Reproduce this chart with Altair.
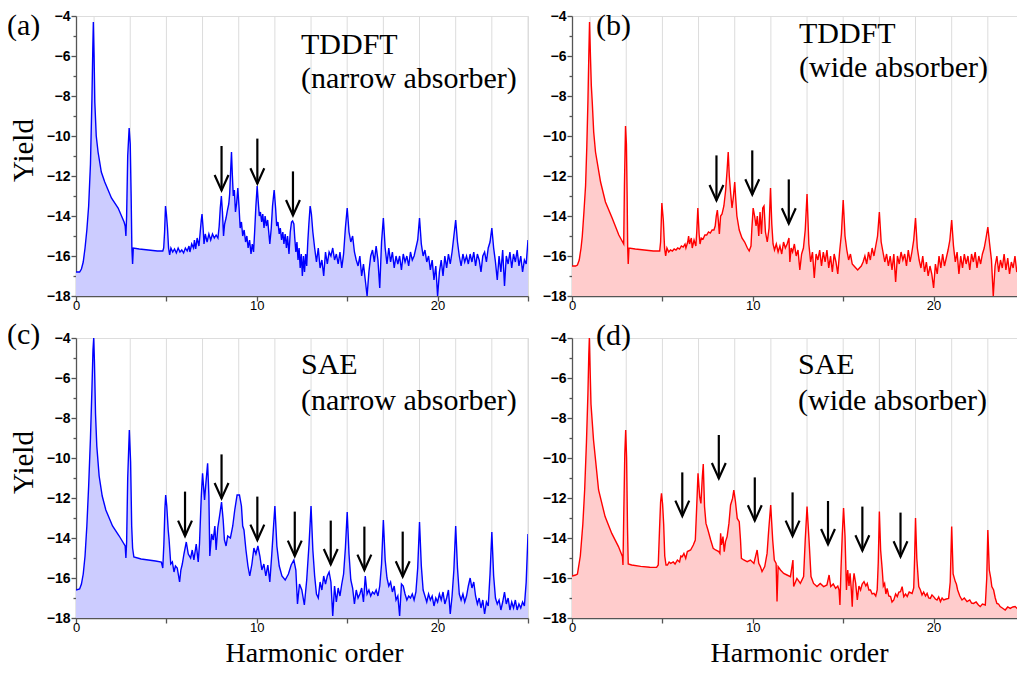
import altair as alt
import pandas as pd

# ---------------- data ----------------
A_PTS = [
    [0, -16.8], [0.2, -16.8], [0.3, -16.65], [0.4, -16.3], [0.5, -15.6], [0.6, -14.7], [0.7, -13.5], [0.8, -11.4],
    [0.88, -8.2], [0.93, -5.6], [0.96, -4.3], [1.0, -6.0], [1.04, -8.3], [1.12, -10.0], [1.22, -10.8], [1.4, -11.8],
    [1.59, -12.3], [1.96, -13.1], [2.33, -13.6], [2.66, -14.3], [2.72, -14.5], [2.76, -15.0], [2.8, -14.0], [2.86, -11.0],
    [2.94, -9.6], [3.0, -10.4], [3.05, -13.0], [3.09, -15.6], [3.13, -16.4], [3.17, -15.6], [3.5, -15.65], [4.0, -15.7],
    [4.5, -15.75], [4.8, -15.75], [4.85, -15.6], [4.9, -14.8], [4.95, -13.5], [5.0, -13.9], [5.06, -14.6], [5.12, -15.6],
    [5.18, -15.95], [5.25, -15.6], [5.35, -15.8], [5.45, -15.65], [5.55, -15.85], [5.65, -15.6], [5.75, -15.8], [5.85, -15.7],
    [5.95, -15.85], [6.05, -15.6], [6.15, -15.75], [6.25, -15.5], [6.3, -15.8], [6.4, -15.4], [6.5, -15.6], [6.55, -15.2],
    [6.62, -15.65], [6.7, -15.1], [6.8, -15.5], [6.87, -14.8], [6.93, -14.2], [6.97, -13.9], [7.03, -14.6], [7.08, -15.4],
    [7.15, -14.9], [7.25, -15.3], [7.35, -14.9], [7.45, -15.2], [7.55, -14.9], [7.65, -15.1], [7.75, -14.95], [7.85, -15.1],
    [7.92, -14.5], [7.98, -13.6], [8.04, -13.0], [8.1, -13.8], [8.16, -15.0], [8.22, -14.4], [8.3, -14.1], [8.38, -13.7],
    [8.45, -13.4], [8.5, -12.9], [8.55, -11.8], [8.6, -10.8], [8.65, -12.0], [8.7, -13.0], [8.76, -12.7], [8.82, -13.8],
    [8.88, -13.4], [8.95, -12.6], [9.02, -13.6], [9.08, -14.6], [9.15, -14.3], [9.22, -15.0], [9.3, -14.7], [9.38, -15.3],
    [9.45, -15.0], [9.52, -15.6], [9.6, -15.2], [9.68, -15.9], [9.75, -15.4], [9.82, -15.8], [9.88, -14.8], [9.95, -13.5],
    [10.02, -12.5], [10.08, -13.3], [10.14, -14.0], [10.2, -13.8], [10.27, -14.3], [10.33, -13.9], [10.4, -14.6], [10.46, -14.0],
    [10.53, -14.5], [10.6, -14.2], [10.66, -14.8], [10.72, -15.4], [10.8, -14.6], [10.87, -13.5], [10.96, -12.7], [11.04, -13.6],
    [11.1, -14.5], [11.17, -14.3], [11.24, -14.9], [11.3, -14.6], [11.37, -15.2], [11.44, -14.8], [11.5, -15.4], [11.57, -14.9],
    [11.64, -15.6], [11.7, -15.0], [11.78, -15.9], [11.85, -14.8], [11.92, -14.3], [11.98, -14.25], [12.05, -14.4], [12.1, -15.1],
    [12.16, -15.8], [12.22, -15.3], [12.28, -16.2], [12.34, -15.6], [12.4, -16.6], [12.46, -15.9], [12.52, -17.0], [12.58, -16.0],
    [12.64, -16.8], [12.7, -15.9], [12.76, -16.5], [12.82, -15.3], [12.88, -14.4], [12.95, -13.5], [13.02, -13.9], [13.1, -14.8],
    [13.2, -15.6], [13.3, -16.3], [13.4, -15.6], [13.5, -16.6], [13.6, -16.2], [13.7, -17.0], [13.8, -15.8], [13.9, -16.4],
    [14.0, -15.8], [14.1, -16.0], [14.2, -15.6], [14.3, -16.2], [14.4, -15.9], [14.5, -16.4], [14.6, -15.8], [14.7, -16.6],
    [14.8, -15.9], [14.9, -14.6], [15.0, -13.6], [15.1, -14.8], [15.2, -15.3], [15.3, -15.0], [15.4, -15.8], [15.5, -16.2],
    [15.6, -16.5], [15.7, -16.0], [15.8, -17.0], [15.9, -16.4], [16.0, -17.2], [16.1, -18.0], [16.2, -16.8], [16.3, -16.0],
    [16.4, -15.7], [16.5, -16.3], [16.6, -15.5], [16.7, -16.2], [16.8, -17.6], [16.9, -15.3], [17.0, -14.1], [17.1, -15.6],
    [17.2, -16.4], [17.3, -15.6], [17.4, -16.3], [17.5, -15.8], [17.6, -16.6], [17.7, -16.0], [17.8, -16.4], [17.9, -16.0],
    [18.0, -16.7], [18.1, -15.9], [18.2, -16.3], [18.3, -16.0], [18.4, -16.5], [18.5, -15.8], [18.6, -16.2], [18.7, -16.0],
    [18.8, -15.6], [18.9, -15.2], [19.0, -14.1], [19.1, -15.4], [19.2, -16.0], [19.3, -15.7], [19.4, -16.3], [19.5, -16.0],
    [19.6, -16.7], [19.7, -16.2], [19.8, -17.2], [19.9, -16.5], [20.0, -18.0], [20.1, -16.8], [20.2, -16.2], [20.3, -17.0],
    [20.4, -16.0], [20.5, -16.6], [20.6, -15.9], [20.7, -16.4], [20.8, -15.8], [20.9, -15.0], [21.0, -14.2], [21.1, -15.3],
    [21.2, -16.0], [21.3, -16.5], [21.4, -15.9], [21.5, -16.3], [21.6, -16.0], [21.7, -16.4], [21.8, -15.9], [21.9, -16.3],
    [22.0, -15.8], [22.1, -16.5], [22.2, -15.9], [22.3, -16.2], [22.4, -16.8], [22.5, -16.0], [22.6, -15.8], [22.7, -16.3],
    [22.8, -15.6], [22.9, -15.3], [23.0, -14.6], [23.1, -15.6], [23.2, -16.3], [23.3, -17.2], [23.4, -16.0], [23.5, -16.8],
    [23.6, -15.7], [23.7, -17.5], [23.8, -16.0], [23.9, -16.4], [24.0, -15.8], [24.1, -16.6], [24.2, -15.9], [24.3, -16.3],
    [24.4, -15.7], [24.5, -16.5], [24.6, -16.0], [24.7, -16.8], [24.8, -16.2], [24.9, -16.4], [25.0, -15.2],
]

B_PTS = [
    [0, -16.5], [0.2, -16.5], [0.3, -16.45], [0.4, -16.2], [0.5, -15.6], [0.57, -15.0], [0.66, -13.8], [0.75, -12.5],
    [0.82, -10.5], [0.88, -8.3], [0.93, -6.0], [0.97, -4.3], [1.02, -6.0], [1.07, -7.5], [1.12, -8.3], [1.2, -9.8],
    [1.3, -10.8], [1.58, -12.3], [1.85, -13.3], [2.22, -14.1], [2.59, -14.95], [2.8, -15.3], [2.86, -15.4], [2.9, -12.5],
    [2.96, -9.5], [3.01, -10.4], [3.05, -13.0], [3.08, -15.6], [3.11, -16.4], [3.15, -15.6], [3.5, -15.65], [4.0, -15.7],
    [4.5, -15.75], [4.85, -15.75], [4.9, -15.3], [4.97, -13.35], [5.05, -14.2], [5.12, -15.6], [5.18, -16.0], [5.25, -15.6],
    [5.35, -15.8], [5.45, -15.7], [5.55, -15.75], [5.65, -15.65], [5.75, -15.7], [5.85, -15.6], [5.95, -15.65], [6.05, -15.5],
    [6.15, -15.55], [6.25, -15.4], [6.3, -15.6], [6.4, -15.3], [6.45, -15.0], [6.5, -15.4], [6.6, -15.1], [6.65, -15.6],
    [6.75, -15.2], [6.85, -15.5], [6.9, -14.8], [6.96, -13.6], [7.03, -14.9], [7.08, -15.4], [7.15, -15.1], [7.25, -15.15],
    [7.35, -14.95], [7.45, -14.95], [7.55, -14.8], [7.65, -14.85], [7.75, -14.7], [7.85, -14.7], [7.92, -14.5], [7.98, -14.0],
    [8.04, -13.7], [8.1, -14.3], [8.15, -14.9], [8.22, -14.0], [8.3, -13.9], [8.4, -13.5], [8.5, -12.7], [8.58, -11.7],
    [8.64, -10.8], [8.7, -12.0], [8.78, -12.9], [8.85, -13.6], [8.92, -13.1], [9.0, -12.3], [9.06, -13.2], [9.12, -14.0],
    [9.25, -14.7], [9.4, -15.1], [9.55, -15.3], [9.7, -15.6], [9.8, -15.75], [9.9, -15.5], [9.95, -14.6], [10.02, -13.6],
    [10.1, -14.0], [10.18, -14.5], [10.25, -14.0], [10.33, -15.0], [10.4, -13.8], [10.48, -14.9], [10.55, -13.6], [10.62, -13.5],
    [10.7, -14.8], [10.8, -15.3], [10.9, -14.6], [10.98, -12.6], [11.05, -14.4], [11.12, -15.4], [11.2, -15.7], [11.3, -15.4],
    [11.4, -15.8], [11.5, -15.5], [11.6, -15.9], [11.7, -15.3], [11.8, -15.6], [11.9, -15.4], [12.0, -15.1], [12.05, -16.3],
    [12.12, -15.6], [12.2, -15.8], [12.3, -15.4], [12.4, -16.0], [12.5, -15.7], [12.6, -16.7], [12.7, -15.9], [12.8, -15.6],
    [12.9, -14.7], [13.0, -12.9], [13.1, -15.4], [13.2, -16.3], [13.3, -15.8], [13.4, -17.1], [13.5, -15.9], [13.6, -16.2],
    [13.7, -15.7], [13.8, -16.5], [13.9, -15.8], [14.0, -16.3], [14.1, -15.7], [14.2, -16.6], [14.3, -16.0], [14.4, -16.8],
    [14.5, -15.9], [14.6, -16.3], [14.7, -16.9], [14.8, -15.8], [14.9, -14.9], [15.0, -13.2], [15.1, -15.0], [15.2, -15.7],
    [15.3, -16.2], [15.4, -15.9], [15.5, -16.4], [15.6, -16.5], [15.7, -16.6], [15.8, -16.7], [15.9, -16.6], [16.0, -16.5],
    [16.1, -16.3], [16.2, -16.0], [16.3, -16.4], [16.4, -15.8], [16.5, -16.2], [16.6, -15.6], [16.7, -16.0], [16.8, -15.5],
    [16.9, -15.0], [17.0, -13.8], [17.1, -15.3], [17.2, -15.8], [17.3, -16.3], [17.4, -15.9], [17.5, -16.5], [17.6, -16.0],
    [17.7, -16.7], [17.8, -15.9], [17.9, -17.3], [18.0, -16.0], [18.1, -16.4], [18.2, -15.8], [18.3, -16.2], [18.4, -15.9],
    [18.5, -16.5], [18.6, -15.7], [18.7, -16.3], [18.8, -15.8], [18.9, -15.2], [19.0, -14.1], [19.1, -15.6], [19.2, -16.2],
    [19.3, -16.6], [19.4, -16.0], [19.5, -16.8], [19.6, -16.3], [19.7, -17.0], [19.8, -16.5], [19.9, -16.9], [20.0, -17.6],
    [20.1, -16.4], [20.2, -16.9], [20.3, -16.0], [20.4, -16.6], [20.5, -15.9], [20.6, -16.5], [20.7, -16.1], [20.8, -15.7],
    [20.9, -15.2], [21.0, -14.2], [21.1, -15.5], [21.2, -16.3], [21.3, -15.8], [21.4, -16.9], [21.5, -16.0], [21.6, -16.6],
    [21.7, -15.9], [21.8, -16.4], [21.9, -16.0], [22.0, -16.7], [22.1, -15.9], [22.2, -16.3], [22.3, -15.8], [22.4, -16.6],
    [22.5, -16.0], [22.6, -16.4], [22.7, -15.9], [22.8, -15.6], [22.9, -15.1], [23.0, -14.55], [23.1, -15.4], [23.2, -16.2],
    [23.3, -18.0], [23.4, -16.5], [23.5, -16.0], [23.6, -16.8], [23.7, -16.2], [23.8, -16.6], [23.9, -15.9], [24.0, -16.7],
    [24.1, -16.1], [24.2, -16.9], [24.3, -16.3], [24.4, -16.6], [24.5, -16.0], [24.6, -16.8], [24.7, -16.4], [24.8, -17.0],
    [24.9, -16.6], [25.0, -17.2],
]

C_PTS = [
    [0, -16.6], [0.2, -16.55], [0.3, -16.3], [0.4, -15.8], [0.5, -14.9], [0.6, -13.4], [0.7, -11.4], [0.8, -9.0],
    [0.88, -6.6], [0.94, -4.6], [0.98, -4.0], [1.02, -5.2], [1.08, -7.8], [1.15, -9.4], [1.28, -10.9], [1.45, -11.9],
    [1.65, -12.6], [2.02, -13.4], [2.39, -13.9], [2.72, -14.4], [2.76, -15.0], [2.8, -14.2], [2.86, -11.0], [2.95, -8.6],
    [3.02, -10.2], [3.08, -13.4], [3.13, -14.5], [3.2, -14.95], [3.6, -15.05], [4.0, -15.1], [4.4, -15.15], [4.72, -15.2],
    [4.8, -15.5], [4.86, -14.3], [4.92, -12.5], [4.96, -11.85], [5.02, -12.4], [5.1, -13.6], [5.15, -14.1], [5.24, -15.3],
    [5.33, -15.2], [5.42, -15.7], [5.5, -15.4], [5.6, -15.5], [5.73, -16.2], [5.8, -15.6], [5.88, -15.3], [5.97, -14.8],
    [6.1, -14.2], [6.21, -14.8], [6.34, -15.0], [6.43, -14.6], [6.52, -15.1], [6.65, -14.3], [6.76, -15.2], [6.83, -14.3],
    [6.93, -11.9], [7.0, -10.77], [7.11, -12.1], [7.18, -11.3], [7.28, -10.27], [7.35, -11.9], [7.4, -14.9], [7.5, -13.8],
    [7.59, -14.1], [7.68, -13.4], [7.75, -14.6], [7.84, -13.5], [7.94, -12.9], [8.05, -12.2], [8.14, -13.1], [8.21, -14.1],
    [8.3, -14.4], [8.39, -13.9], [8.54, -14.0], [8.67, -13.4], [8.78, -12.6], [8.91, -11.85], [9.04, -11.85], [9.15, -12.4],
    [9.22, -13.4], [9.29, -13.6], [9.4, -14.6], [9.51, -15.4], [9.61, -15.9], [9.73, -15.3], [9.84, -14.5], [9.95, -14.8],
    [10.06, -14.4], [10.17, -14.9], [10.28, -15.6], [10.39, -15.3], [10.5, -15.9], [10.61, -15.35], [10.72, -16.2], [10.83, -14.8],
    [10.92, -13.5], [11.0, -12.4], [11.11, -14.4], [11.24, -15.4], [11.39, -15.9], [11.57, -16.1], [11.75, -15.8], [11.9, -15.35],
    [12.05, -15.1], [12.16, -15.6], [12.25, -17.3], [12.36, -16.3], [12.49, -16.6], [12.63, -17.35], [12.76, -16.1], [12.89, -14.3],
    [13.0, -12.4], [13.1, -14.6], [13.2, -15.9], [13.3, -16.8], [13.4, -17.0], [13.5, -16.2], [13.6, -16.6], [13.7, -15.9],
    [13.8, -16.3], [13.9, -15.9], [14.0, -15.7], [14.1, -16.2], [14.2, -17.9], [14.3, -16.4], [14.4, -17.2], [14.5, -16.5],
    [14.6, -16.9], [14.7, -16.3], [14.8, -15.8], [14.9, -14.5], [15.0, -12.7], [15.1, -14.8], [15.2, -16.1], [15.3, -16.5],
    [15.4, -17.3], [15.5, -16.6], [15.6, -17.0], [15.7, -16.8], [15.8, -16.5], [15.9, -17.2], [16.0, -15.9], [16.1, -16.8],
    [16.2, -16.6], [16.3, -16.9], [16.4, -16.7], [16.5, -16.8], [16.6, -16.6], [16.7, -16.9], [16.8, -16.4], [16.9, -15.3],
    [17.0, -13.1], [17.1, -15.1], [17.2, -16.0], [17.3, -16.4], [17.4, -16.2], [17.5, -16.7], [17.6, -16.4], [17.7, -17.1],
    [17.8, -16.9], [17.9, -17.9], [18.0, -16.3], [18.1, -16.4], [18.2, -16.8], [18.3, -17.1], [18.4, -16.9], [18.5, -17.0],
    [18.6, -16.8], [18.7, -17.1], [18.8, -16.7], [18.9, -15.5], [19.0, -13.2], [19.1, -15.4], [19.2, -16.6], [19.3, -16.9],
    [19.4, -17.2], [19.5, -16.8], [19.6, -17.1], [19.7, -16.9], [19.8, -17.4], [19.9, -17.0], [20.0, -17.2], [20.1, -16.8],
    [20.2, -17.1], [20.3, -16.7], [20.4, -17.3], [20.5, -17.0], [20.6, -16.6], [20.7, -17.8], [20.8, -16.9], [20.9, -15.6],
    [21.0, -13.4], [21.1, -15.5], [21.2, -16.8], [21.3, -17.1], [21.4, -16.8], [21.5, -17.2], [21.6, -16.9], [21.7, -16.4],
    [21.8, -16.0], [21.9, -16.5], [22.0, -16.2], [22.1, -16.9], [22.2, -17.3], [22.3, -17.0], [22.4, -17.5], [22.5, -17.1],
    [22.6, -17.8], [22.7, -17.2], [22.8, -17.4], [22.9, -15.8], [23.0, -13.7], [23.1, -15.9], [23.2, -17.0], [23.3, -17.3],
    [23.4, -17.1], [23.5, -17.6], [23.6, -17.2], [23.7, -16.7], [23.8, -17.3], [23.9, -17.0], [24.0, -17.6], [24.1, -17.2],
    [24.2, -17.5], [24.3, -17.1], [24.4, -17.6], [24.5, -17.3], [24.6, -17.5], [24.7, -17.2], [24.8, -17.4], [24.9, -16.2],
    [25.0, -13.8],
]

D_PTS = [
    [0, -15.9], [0.2, -15.85], [0.3, -15.8], [0.46, -14.9], [0.6, -13.3], [0.7, -11.6], [0.8, -9.2], [0.88, -6.8],
    [0.93, -4.8], [0.96, -4.0], [1.0, -5.5], [1.05, -7.3], [1.19, -9.1], [1.47, -11.6], [1.83, -12.93], [2.2, -13.77],
    [2.57, -14.43], [2.79, -14.93], [2.82, -15.35], [2.86, -13.0], [2.92, -9.8], [2.97, -8.6], [3.02, -10.0], [3.07, -13.5],
    [3.11, -15.3], [3.3, -15.35], [3.8, -15.42], [4.3, -15.46], [4.68, -15.47], [4.77, -15.35], [4.84, -13.6], [4.9, -12.2],
    [4.95, -11.77], [5.01, -12.3], [5.07, -13.3], [5.13, -14.9], [5.2, -15.35], [5.28, -15.35], [5.37, -15.2], [5.46, -15.27],
    [5.6, -15.2], [5.7, -15.3], [5.83, -15.1], [5.95, -15.2], [6.02, -14.9], [6.1, -14.93], [6.19, -14.77], [6.29, -15.02],
    [6.38, -14.68], [6.56, -14.6], [6.71, -14.35], [6.82, -14.1], [6.89, -12.6], [6.97, -10.77], [7.06, -11.93], [7.13, -12.27],
    [7.21, -10.93], [7.26, -10.3], [7.33, -12.43], [7.41, -13.27], [7.52, -13.6], [7.67, -14.1], [7.81, -14.52], [7.94, -14.6],
    [8.12, -14.68], [8.18, -14.77], [8.22, -13.77], [8.27, -14.35], [8.35, -13.93], [8.42, -14.68], [8.49, -14.18], [8.58, -13.93],
    [8.68, -13.27], [8.77, -12.35], [8.88, -12.02], [8.95, -11.6], [9.04, -12.18], [9.14, -13.02], [9.25, -13.18], [9.32, -14.1],
    [9.37, -15.02], [9.5, -15.1], [9.69, -15.18], [9.87, -15.1], [10.06, -15.27], [10.15, -14.93], [10.24, -14.6], [10.33, -15.27],
    [10.42, -15.43], [10.51, -15.68], [10.66, -15.43], [10.79, -14.77], [10.88, -13.6], [10.99, -12.35], [11.1, -14.1], [11.19, -15.1],
    [11.29, -15.27], [11.34, -17.18], [11.4, -15.43], [11.53, -15.6], [11.71, -15.77], [11.89, -15.85], [12.08, -15.93], [12.22, -15.1],
    [12.26, -16.43], [12.44, -16.02], [12.63, -16.27], [12.81, -15.93], [12.9, -14.1], [13.0, -12.43], [13.11, -14.1], [13.22, -15.93],
    [13.36, -16.27], [13.55, -16.43], [13.73, -16.27], [13.92, -16.43], [14.1, -16.35], [14.22, -15.85], [14.31, -16.43], [14.45, -16.3],
    [14.58, -16.52], [14.7, -16.4], [14.77, -16.6], [14.82, -17.35], [14.88, -15.5], [14.95, -13.8], [15.02, -12.5], [15.1, -13.9],
    [15.18, -16.6], [15.25, -15.6], [15.32, -16.4], [15.38, -15.77], [15.45, -16.6], [15.5, -17.43], [15.55, -16.2], [15.6, -15.77],
    [15.69, -16.27], [15.78, -17.1], [15.87, -16.4], [15.96, -16.6], [16.05, -16.3], [16.15, -16.18], [16.25, -16.4], [16.33, -16.27],
    [16.42, -16.6], [16.51, -16.6], [16.6, -16.8], [16.7, -16.77], [16.8, -16.9], [16.88, -16.6], [16.94, -15.2], [17.0, -12.68],
    [17.07, -14.6], [17.16, -15.6], [17.22, -16.4], [17.29, -16.27], [17.36, -16.8], [17.43, -16.52], [17.52, -16.9], [17.62, -16.93],
    [17.7, -17.2], [17.8, -17.1], [17.9, -16.8], [17.99, -16.93], [18.08, -16.7], [18.17, -16.68], [18.26, -16.43], [18.35, -16.93],
    [18.45, -16.8], [18.54, -16.93], [18.65, -16.7], [18.81, -16.77], [18.9, -16.5], [18.95, -15.0], [19.0, -13.0], [19.07, -15.0],
    [19.18, -16.43], [19.27, -16.6], [19.36, -16.85], [19.45, -16.7], [19.55, -16.9], [19.64, -16.77], [19.73, -17.0], [19.82, -17.02],
    [19.91, -16.85], [20.0, -16.93], [20.1, -17.05], [20.19, -17.1], [20.28, -16.95], [20.38, -17.18], [20.47, -17.0], [20.56, -17.1],
    [20.7, -17.05], [20.83, -17.02], [20.92, -16.2], [21.0, -13.43], [21.08, -15.8], [21.2, -16.18], [21.26, -16.3], [21.33, -16.6],
    [21.45, -16.9], [21.57, -17.1], [21.7, -17.0], [21.85, -17.18], [22.0, -17.1], [22.1, -17.25], [22.21, -17.27], [22.35, -17.2],
    [22.48, -17.35], [22.58, -17.43], [22.7, -17.3], [22.86, -17.35], [22.94, -16.0], [23.0, -13.6], [23.08, -15.6], [23.16, -16.0],
    [23.22, -16.43], [23.32, -16.6], [23.41, -17.0], [23.5, -17.27], [23.59, -17.3], [23.68, -17.43], [23.8, -17.5], [23.96, -17.6],
    [24.1, -17.45], [24.24, -17.52], [24.38, -17.45], [24.51, -17.43], [24.65, -17.55], [24.79, -17.6], [24.88, -17.77], [25.0, -17.6],
]

# arrows: [harmonic, shaft top, tip]
A_ARROWS = [[8.05, -10.5, -12.72], [10.03, -10.13, -12.38], [12.0, -11.77, -13.97]]
B_ARROWS = [[7.99, -10.97, -13.22], [9.97, -10.72, -12.93], [11.99, -12.17, -14.38]]
C_ARROWS = [[6.03, -11.68, -13.9], [8.05, -9.82, -12.02], [10.03, -11.93, -14.1], [12.1, -12.68, -14.9],
            [14.09, -13.13, -15.32], [15.95, -13.43, -15.6], [18.07, -13.68, -15.93]]
D_ARROWS = [[6.1, -10.72, -12.9], [8.12, -8.85, -11.02], [10.11, -10.97, -13.13], [12.2, -11.72, -13.9],
            [14.16, -12.15, -14.32], [16.06, -12.43, -14.63], [18.17, -12.73, -14.93]]

GRID_H = [1, 3, 5, 7, 9, 11, 13, 15, 17, 19, 21, 23, 25]
X_TICKS = [0, 5, 10, 15, 20, 25]
Y_TICKS = [-18, -17, -16, -15, -14, -13, -12, -11, -10, -9, -8, -7, -6, -5, -4]

TAGS = ["(a)", "(b)", "(c)", "(d)"]
METHODS = ["TDDFT", "TDDFT", "SAE", "SAE"]
ABSORBERS = ["(narrow absorber)", "(wide absorber)", "(narrow absorber)", "(wide absorber)"]

BLUE, BLUE_FILL = "#0000ff", "#ccccff"
RED, RED_FILL = "#ff0000", "#ffcccc"

W, H = 452, 280
SERIF = "Liberation Serif"
SANS = "Liberation Sans"
AXC = "#555555"

ONE = pd.DataFrame({"k": [0]})


def text_layer(s, px, py):
    return alt.Chart(ONE).mark_text(
        text=s, font=SERIF, fontSize=30, align="left", baseline="alphabetic", color="black"
    ).encode(x=alt.value(px), y=alt.value(py))


def panel(pts, arrows, line_color, fill_color, idx, tag_xy, name_xy, abs_xy, ytitle, xtitle):
    df = pd.DataFrame(pts, columns=["h", "y"])
    arr = pd.DataFrame([[a[0], a[1], a[2]] for a in arrows], columns=["h", "y", "y2"])
    heads = pd.DataFrame([[a[0], a[2]] for a in arrows], columns=["h", "y"])
    grid = pd.DataFrame({"h": GRID_H})

    xs = alt.Scale(domain=[0, 25], nice=False, zero=False)
    ys = alt.Scale(domain=[-18, -4], nice=False, zero=False)

    xkw = dict(values=X_TICKS, labelExpr="datum.value % 10 === 0 ? datum.label : ''",
               grid=False, tickSize=5, tickWidth=1.3, tickColor=AXC, domainColor=AXC, domainWidth=1.3,
               labelPadding=-2, labelFont=SANS, labelFontSize=13, labelColor="black",
               labelFlush=False, labelOverlap=False)
    if xtitle:
        xaxis = alt.Axis(title="Harmonic order", titleFont=SERIF, titleFontSize=28, titleFontWeight="normal",
                         titleColor="black", titleX=xtitle, titleY=43, titleBaseline="alphabetic",
                         titleAlign="center", **xkw)
    else:
        xaxis = alt.Axis(title=None, **xkw)

    ykw = dict(values=Y_TICKS, labelExpr="datum.value % 2 === 0 ? datum.label : ''",
               grid=False,
               tickSize={"condition": {"test": "datum.value % 2 === 0", "value": 5}, "value": 3},
               tickWidth=1.3, tickColor=AXC, domainColor=AXC, domainWidth=1.3,
               labelPadding=1, labelFont=SANS, labelFontSize=14, labelFontWeight="bold",
               labelColor="black", labelOverlap=False)
    if ytitle:
        yaxis = alt.Axis(title="Yield", titleFont=SERIF, titleFontSize=29, titleFontWeight="normal",
                         titleColor="black", titleX=-44, titleY=ytitle, titleBaseline="alphabetic",
                         titleAlign="center", **ykw)
    else:
        yaxis = alt.Axis(title=None, **ykw)

    X = alt.X("h:Q", scale=xs, axis=xaxis)
    Y = alt.Y("y:Q", scale=ys, axis=yaxis)

    g = alt.Chart(grid).mark_rule(color="#dcdcdc", strokeWidth=1).encode(x=X)
    area = alt.Chart(df).mark_area(color=fill_color, opacity=1, clip=True).encode(
        x=X, y=Y, y2=alt.datum(-18))
    line = alt.Chart(df).mark_line(color=line_color, strokeWidth=1.4, clip=True).encode(x=X, y=Y)
    shafts = alt.Chart(arr).mark_rule(color="black", strokeWidth=2.2).encode(x=X, y=Y, y2="y2:Q")
    tips = alt.Chart(heads).mark_point(
        shape="M-0.45,-1L0,0L0.45,-1", size=950, filled=False, color="black",
        strokeWidth=2.2, opacity=1, strokeJoin="miter").encode(x=X, y=Y)

    layers = [g, area, line, shafts, tips,
              text_layer(TAGS[idx], *tag_xy),
              text_layer(METHODS[idx], *name_xy),
              text_layer(ABSORBERS[idx], *abs_xy)]
    return alt.layer(*layers).properties(width=W, height=H)


pa = panel(A_PTS, A_ARROWS, BLUE, BLUE_FILL, 0, (-69, 19), (225, 38), (225, 72), 134, None)
pb = panel(B_PTS, B_ARROWS, RED, RED_FILL, 1, (24, 19), (227, 27), (227, 61), None, None)
pc = panel(C_PTS, C_ARROWS, BLUE, BLUE_FILL, 2, (-69, 6), (225, 36), (225, 72), 124, 238)
pd_ = panel(D_PTS, D_ARROWS, RED, RED_FILL, 3, (24, 7), (226, 36), (226, 72), None, 227)

chart = alt.concat(pa, pb, pc, pd_, columns=2, spacing={"row": 42, "column": 44}, bounds="flush").properties(
    padding={"left": -2, "top": 0, "right": -9, "bottom": 0}
).configure_view(strokeWidth=0).configure(background="white")

chart.save("out.html", embed_options={"renderer": "svg", "actions": False})
